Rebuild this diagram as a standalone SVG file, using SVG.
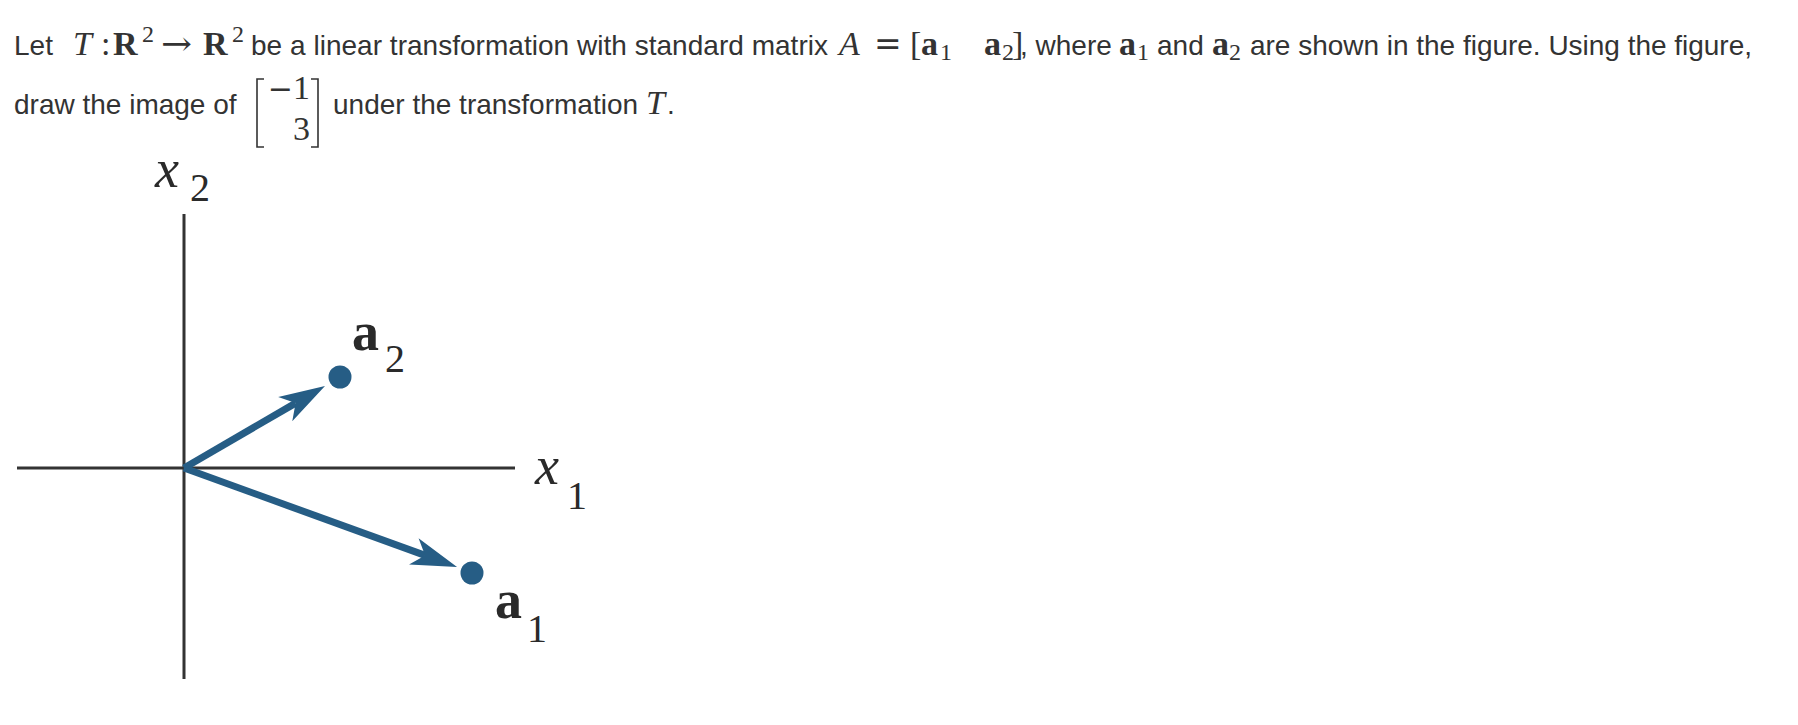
<svg xmlns="http://www.w3.org/2000/svg" width="1798" height="725" viewBox="0 0 1798 725">
  <defs>
    <style>
      .txt { font-family: "Liberation Sans", Arial, sans-serif; font-size: 28px; fill: #333; }
      .mi { font-family: "Liberation Serif", "Times New Roman", serif; font-style: italic; font-size: 34px; fill: #333; }
      .mr { font-family: "Liberation Serif", "Times New Roman", serif; font-size: 34px; fill: #333; }
      .mw { font-family: "DejaVu Serif", "Liberation Serif", serif; font-size: 33px; fill: #333; }
      .mb { font-family: "Liberation Serif", "Times New Roman", serif; font-weight: bold; font-size: 34px; fill: #333; }
      .ms { font-family: "Liberation Serif", "Times New Roman", serif; font-size: 24px; fill: #333; }
      .brk { fill: none; stroke: #333; stroke-width: 1.6; }
      .axis { stroke: #333; stroke-width: 3; fill: none; }
      .vec { stroke: #265d85; stroke-width: 7; fill: none; }
      .dot { fill: #265d85; }
      .lbl-i { font-family: "Liberation Serif", "Times New Roman", serif; font-style: italic; font-size: 54px; fill: #2a2a2a; }
      .lbl-b { font-family: "Liberation Serif", "Times New Roman", serif; font-weight: bold; font-size: 54px; fill: #2a2a2a; }
      .lbl-s { font-family: "Liberation Serif", "Times New Roman", serif; font-size: 40px; fill: #2a2a2a; }
    </style>
    <marker id="arrow" viewBox="0 -15 48 30" markerWidth="48" markerHeight="30" refX="12" refY="0" orient="auto" markerUnits="userSpaceOnUse">
      <path d="M46,0 L0,-14 L12,0 L0,14 Z" fill="#265d85"/>
    </marker>
  </defs>

  <g id="question-line1">
    <text class="txt" x="14" y="55">Let</text>
    <text class="mi" x="73" y="55">T</text>
    <text class="mr" x="101" y="55">:</text>
    <text class="mb" x="113" y="55">R</text>
    <text class="ms" x="142" y="42">2</text>
    <text class="mw" x="161" y="55" textLength="31" lengthAdjust="spacingAndGlyphs">→</text>
    <text class="mb" x="203" y="55">R</text>
    <text class="ms" x="232" y="42">2</text>
    <text class="txt" x="251" y="55" textLength="577" lengthAdjust="spacing">be a linear transformation with standard matrix</text>
    <text class="mi" x="839" y="55">A</text>
    <text class="mw" x="874" y="55">=</text>
    <text class="mr" x="910" y="55">[</text>
    <text class="mb" x="921" y="55">a</text>
    <text class="ms" x="940" y="60">1</text>
    <text class="mb" x="984" y="55">a</text>
    <text class="ms" x="1002" y="60">2</text>
    <text class="mr" x="1012" y="55">]</text>
    <text class="txt" x="1020" y="55">, where</text>
    <text class="mb" x="1119" y="55">a</text>
    <text class="ms" x="1137" y="60">1</text>
    <text class="txt" x="1157" y="55">and</text>
    <text class="mb" x="1212" y="55">a</text>
    <text class="ms" x="1229" y="60">2</text>
    <text class="txt" x="1250" y="55" textLength="502" lengthAdjust="spacing">are shown in the figure. Using the figure,</text>
  </g>

  <g id="question-line2">
    <text class="txt" x="14" y="114">draw the image of</text>
    <g id="column-vector">
      <path class="brk" d="M264,79 H257 V147 H264"/>
      <path class="brk" d="M311,79 H318 V147 H311"/>
      <text class="mr" x="310" y="99" text-anchor="end"><tspan font-family="DejaVu Serif, serif" font-size="30px">−</tspan>1</text>
      <text class="mr" x="310" y="140" text-anchor="end">3</text>
    </g>
    <text class="txt" x="333" y="114">under the transformation</text>
    <text class="mi" x="646" y="114">T</text>
    <text class="txt" x="667" y="114">.</text>
  </g>

  <g id="axis-x1">
    <line class="axis" x1="17" y1="468" x2="515" y2="468"/>
    <text class="lbl-i" x="535" y="484">x</text>
    <text class="lbl-s" x="567" y="509">1</text>
  </g>

  <g id="axis-x2">
    <line class="axis" x1="184" y1="214" x2="184" y2="679"/>
    <text class="lbl-i" x="155" y="187">x</text>
    <text class="lbl-s" x="190" y="201">2</text>
  </g>

  <g id="connectors">
    <line class="vec" x1="184" y1="468" x2="295.6" y2="403.1" marker-end="url(#arrow)"/>
    <line class="vec" x1="184" y1="468" x2="425.1" y2="555.4" marker-end="url(#arrow)"/>
  </g>

  <g id="vector-a2">
    <circle class="dot" cx="340" cy="377" r="11.5"/>
    <text class="lbl-b" x="352" y="350">a</text>
    <text class="lbl-s" x="385" y="372">2</text>
  </g>

  <g id="vector-a1">
    <circle class="dot" cx="472" cy="573" r="11.5"/>
    <text class="lbl-b" x="495" y="618">a</text>
    <text class="lbl-s" x="527" y="642">1</text>
  </g>
</svg>
